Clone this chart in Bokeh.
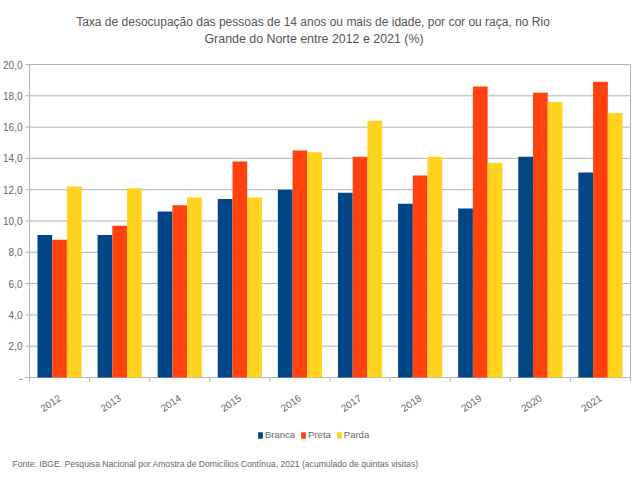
from bokeh.plotting import figure
from bokeh.models import Range1d, Legend, LegendItem, Label, ColumnDataSource
from bokeh.core.properties import value
from bokeh.transform import dodge
from bokeh.embed import file_html
from bokeh.resources import INLINE

# ---------------- data ----------------
years = ["2012", "2013", "2014", "2015", "2016", "2017", "2018", "2019", "2020", "2021"]
branca = [9.1, 9.1, 10.6, 11.4, 12.0, 11.8, 11.1, 10.8, 14.1, 13.1]
preta = [8.8, 9.7, 11.0, 13.8, 14.5, 14.1, 12.9, 18.6, 18.2, 18.9]
parda = [12.2, 12.1, 11.5, 11.5, 14.4, 16.4, 14.1, 13.7, 17.6, 16.9]
series_names = ["Branca", "Preta", "Parda"]
colors = ["#004586", "#ff420e", "#ffd320"]
y_ticks = [0, 2, 4, 6, 8, 10, 12, 14, 16, 18, 20]
y_tick_labels = ["-", "2,0", "4,0", "6,0", "8,0", "10,0", "12,0", "14,0", "16,0", "18,0", "20,0"]
title_lines = ["Taxa de desocupação das pessoas de 14 anos ou mais de idade, por cor ou raça, no Rio",
               "Grande do Norte entre 2012 e 2021 (%)"]
source_text = "Fonte: IBGE. Pesquisa Nacional por Amostra de Domicílios Contínua, 2021 (acumulado de quintas visitas)"

# ---------------- layout constants (pixels) ----------------
FONT = "Liberation Sans"
GRAY = "#666666"
LINE = "#b3b3b3"
W, H = 640, 480
PLOT_L, PLOT_R, PLOT_T, PLOT_B = 29, 630, 64, 377   # plotting area inside canvas
n = len(years)
CW = (PLOT_R - PLOT_L) / n                # px per category
YPX = (PLOT_B - PLOT_T) / (y_ticks[-1] - y_ticks[0])  # px per unit


def dx(px):
    return px / CW


def dy(px):
    return px / YPX


x_lo, x_hi = -0.5, n - 0.5
y_lo, y_hi = y_ticks[0], y_ticks[-1]

p = figure(width=W, height=H,
           x_range=Range1d(x_lo - dx(PLOT_L), x_hi + dx(W - PLOT_R)),
           y_range=Range1d(y_lo - dy(H - PLOT_B), y_hi + dy(PLOT_T)),
           min_border=0, x_axis_location=None, y_axis_location=None,
           output_backend="svg", toolbar_location=None)
p.outline_line_color = None
p.grid.visible = False

idx = list(range(n))
src = ColumnDataSource(dict(x=idx, years=years, Branca=branca, Preta=preta, Parda=parda))

# gridlines + frame
p.segment(x0=[x_lo] * len(y_ticks), x1=[x_hi] * len(y_ticks), y0=y_ticks, y1=y_ticks,
          line_color=LINE, line_width=1)
p.segment(x0=[x_lo, x_hi], x1=[x_lo, x_hi], y0=[y_lo, y_lo], y1=[y_hi, y_hi],
          line_color=LINE, line_width=1)
# y tick marks and labels
p.segment(x0=[x_lo - dx(4)] * len(y_ticks), x1=[x_lo] * len(y_ticks), y0=y_ticks, y1=y_ticks,
          line_color=LINE)
p.text(x=[x_lo - dx(7)] * len(y_ticks), y=y_ticks, text=y_tick_labels,
       text_align="right", text_baseline="middle", text_font=value(FONT),
       text_font_size="10px", text_color=GRAY)
# x tick marks between categories and rotated labels
bounds = [i - 0.5 for i in range(n + 1)]
p.segment(x0=bounds, x1=bounds, y0=[y_lo] * len(bounds), y1=[y_lo - dy(4)] * len(bounds),
          line_color=LINE)
p.text(x=idx, y=[y_lo - dy(19)] * n, text=years, angle=0.6,
       text_align="right", text_baseline="middle", text_font=value(FONT),
       text_font_size="10px", text_color=GRAY)

# bars
bw = 0.245
renderers = []
for i, (name, col) in enumerate(zip(series_names, colors)):
    r = p.vbar(x=dodge("x", (i - 1) * bw), top=name, bottom=0, width=bw,
               source=src, fill_color=col, line_color=None)
    renderers.append(r)

# title (two centred lines)
for txt, cx, base, fs in zip(title_lines, [312.5, 313.5], [21, 38.5], ["12px", "12.4px"]):
    p.add_layout(Label(x=cx, y=H - base, x_units="screen", y_units="screen", text=txt,
                       text_align="center", text_baseline="alphabetic", text_font=FONT,
                       text_font_size=fs, text_color="#555555"))

# legend
legend = Legend(items=[LegendItem(label=nm, renderers=[r]) for nm, r in zip(series_names, renderers)],
                orientation="horizontal", location=(257, H - 440),
                label_text_font=FONT, label_text_font_size="9.5px", label_text_color=GRAY,
                glyph_width=6, glyph_height=8, label_height=8, label_width=10,
                label_standoff=2, spacing=5,
                border_line_alpha=0, background_fill_alpha=0, padding=0, margin=0)
p.add_layout(legend)

# source note
p.add_layout(Label(x=12, y=H - 463, x_units="screen", y_units="screen", text=source_text,
                   text_align="left", text_baseline="middle", text_font=FONT,
                   text_font_size="8.6px", text_color=GRAY))

open("out.html", "w").write(file_html(p, INLINE))
